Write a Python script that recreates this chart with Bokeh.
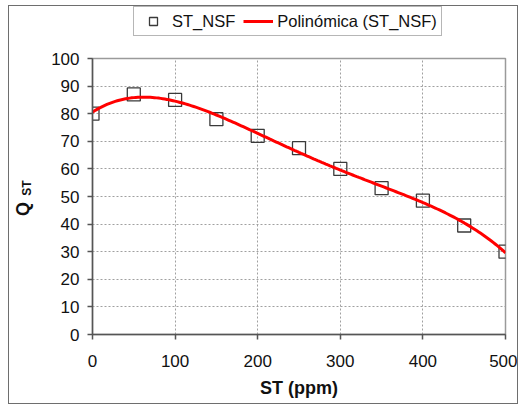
import numpy as np
from bokeh.plotting import figure
from bokeh.layouts import column
from bokeh.models import Legend, LegendItem, LinearAxis, FixedTicker
from bokeh.embed import file_html
from bokeh.resources import INLINE

# ---- data ----
st_ppm = [0, 50, 100, 150, 200, 250, 300, 350, 400, 450, 500]
st_nsf = [80, 87, 85, 78, 72, 67.5, 60, 53, 48.5, 39.5, 30]
x_ticks = [0, 100, 200, 300, 400, 500]
y_ticks = [0, 10, 20, 30, 40, 50, 60, 70, 80, 90, 100]
poly_degree = 4

# polynomial trendline (least-squares fit of the series, as in the original)
coef = np.polyfit(st_ppm, st_nsf, poly_degree)
trend_x = np.linspace(min(st_ppm), max(st_ppm), 201)
trend_y = np.polyval(coef, trend_x)

FONT = "Liberation Sans"
NB = "\u00a0"
SQ_STYLE = dict(marker="square", size=13, fill_color=None, line_color="#3a3a3a", line_width=1.3)
LN_STYLE = dict(line_color="#ff0000", line_width=3)

# ---- main chart ----
p = figure(width=508, height=367, output_backend="svg", toolbar_location=None,
           x_range=(0, 500), y_range=(0, 100),
           min_border_left=80, min_border_right=12, min_border_top=22, min_border_bottom=69,
           background_fill_color="white", border_fill_color="white")

p.scatter(st_ppm, st_nsf, **SQ_STYLE)
p.line(trend_x, trend_y, **LN_STYLE)

p.xaxis.ticker = FixedTicker(ticks=x_ticks)
p.yaxis.ticker = FixedTicker(ticks=y_ticks)
for ax in (p.xaxis[0], p.yaxis[0]):
    ax.axis_line_color = "#555555"
    ax.axis_line_width = 1.5
    ax.major_tick_line_color = "#555555"
    ax.major_tick_line_width = 1.5
    ax.major_tick_in = 0
    ax.major_tick_out = 5
    ax.minor_tick_line_color = None
    ax.major_label_text_font = FONT
    ax.major_label_text_font_size = "17px"
    ax.major_label_text_color = "#111111"
p.xaxis.major_label_standoff = 15
p.yaxis.major_label_standoff = 8
p.xaxis.axis_label = "ST (ppm)"
p.xaxis.axis_label_text_font = FONT
p.xaxis.axis_label_text_font_style = "bold"
p.xaxis.axis_label_text_font_size = "18px"
p.xaxis.axis_label_text_color = "#111111"
p.xaxis.axis_label_standoff = 8

# y-axis title "Q" with subscript "ST"
p.yaxis.axis_label = NB * 5 + "ST"
p.yaxis.axis_label_text_font = FONT
p.yaxis.axis_label_text_font_style = "bold"
p.yaxis.axis_label_text_font_size = "12px"
p.yaxis.axis_label_text_color = "#111111"
p.yaxis.axis_label_standoff = 14

q_axis = LinearAxis(ticker=FixedTicker(ticks=[]), axis_line_color=None,
                    major_tick_line_color=None, minor_tick_line_color=None,
                    major_tick_out=0, major_label_text_font_size="1px",
                    axis_label="Q" + NB * 5, axis_label_standoff=-15,
                    axis_label_text_font=FONT, axis_label_text_font_style="bold",
                    axis_label_text_font_size="18px", axis_label_text_color="#111111")
p.add_layout(q_axis, "left")

for g in (p.xgrid[0], p.ygrid[0]):
    g.grid_line_color = "#a0a0a0"
    g.grid_line_dash = "2 2"
    g.grid_line_width = 1
p.outline_line_color = "#9a9a9a"
p.outline_line_width = 1.5

# ---- legend strip above the chart (keys drawn from the same series, outside its view) ----
lf = figure(width=508, height=30, output_backend="svg", toolbar_location=None,
            x_range=(0, 1), y_range=(0, 1), x_axis_type=None, y_axis_type=None,
            min_border=0, min_border_left=0, min_border_right=0,
            min_border_top=0, min_border_bottom=0,
            background_fill_color="white", border_fill_color="white")
lf.grid.visible = False
lf.outline_line_color = None
sq_key = lf.scatter(st_ppm, st_nsf, **SQ_STYLE)
ln_key = lf.line(trend_x, trend_y, **LN_STYLE)
legend = Legend(items=[LegendItem(label="ST_NSF", renderers=[sq_key]),
                       LegendItem(label="Polinómica (ST_NSF)", renderers=[ln_key])],
                location=(41, 0), orientation="horizontal",
                label_text_font=FONT, label_text_font_size="16.5px", label_text_color="#111111",
                glyph_width=30, glyph_height=20, label_height=20, label_standoff=4,
                spacing=8, padding=4, margin=0,
                border_line_color="#6e6e6e", border_line_width=1.5,
                background_fill_color="white", background_fill_alpha=1)
lf.add_layout(legend, "center")

layout = column(lf, p, spacing=0, margin=(5, 0, 0, 8),
                styles={"border": "1.5px solid #6e6e6e"})

open("out.html", "w").write(file_html(layout, INLINE))
